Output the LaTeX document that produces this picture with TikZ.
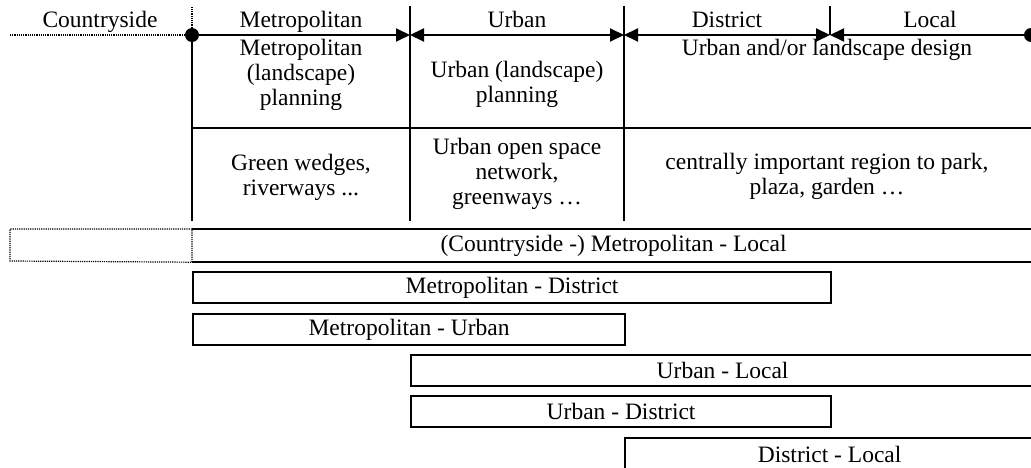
\documentclass[tikz,border=0pt]{standalone}
\usepackage{fontspec}
\setmainfont{Liberation Serif}
\usetikzlibrary{arrows.meta}

\tikzset{
  txt/.style={font=\fontsize{23.5}{25}\selectfont, align=center, inner sep=0pt},
  rule/.style={line width=2pt},
  span/.style={draw, line width=2.2pt, anchor=north west, inner sep=0pt,
    minimum height=31pt, font=\fontsize{23.5}{25}\selectfont},
  dots/.style={densely dotted, line width=1.2pt}
}

\begin{document}
\begin{tikzpicture}[x=1pt,y=-1pt,>={Triangle[length=14pt,width=13pt]}]
    \useasboundingbox (0,0) rectangle (1031,468);

    % scale axis
    \coordinate (cs) at (10,35);
    \coordinate (b0) at (192,35);
    \coordinate (b1) at (410,35);
    \coordinate (b2) at (624,35);
    \coordinate (b3) at (830,35);
    \coordinate (b4) at (1031,35);

    \draw[dots] (cs) -- (b0) -- (192,6);
    \draw[rule,->] (b0) -- (b1);
    \draw[rule,<->] (b1) -- (b2);
    \draw[rule,<->] (b2) -- (b3);
    \draw[rule,<-] (b3) -- (b4);
    \fill (b0) circle (7pt);
    \fill (b4) circle (7pt);

    % table grid
    \foreach \x in {410,624} {
      \draw[rule] (\x,6) -- (\x,221);
    }
    \draw[rule] (b0) -- (192,221);
    \draw[rule] (b3) -- (830,6);
    \draw[rule] (192,128) -- (1031,128);

    % scale labels
    \node[txt, anchor=base] (cty) at (100,28) {Countryside};
    \node[txt, anchor=base] (met) at (301,28) {Metropolitan};
    \node[txt, anchor=base] (urb) at (517,28) {Urban};
    \node[txt, anchor=base] (dis) at (727,28) {District};
    \node[txt, anchor=base] (loc) at (930,28) {Local};

    % planning level
    \node[txt] (metplan) at (301,75) {Metropolitan\\(landscape)\\planning};
    \node[txt] (urbplan) at (517,84) {Urban (landscape)\\planning};
    \node[txt] (design) at (827,50) {Urban and/or landscape design};

    % typical elements
    \node[txt] (wedges) at (301,177) {Green wedges,\\riverways ...};
    \node[txt] (network) at (517,174) {Urban open space\\network,\\greenways …};
    \node[txt] (park) at (827,176) {centrally important region to park,\\plaza, garden …};

    % scale ranges
    \node[span, draw=none, minimum width=841pt] (metloc) at (192,229)
      {(Countryside -) Metropolitan - Local};
    \draw[line width=2.2pt] (metloc.north west) -- (metloc.north east)
      (metloc.south west) -- (metloc.south east);
    \draw[dots] (metloc.north west) -- (10,229) -- (10,261) -- (metloc.south west) -- cycle;

    \node[span, minimum width=638pt] (metdis) at (192,271) {Metropolitan - District};
    \node[span, minimum width=432pt] (meturb) at (192,313) {Metropolitan - Urban};
    \node[span, minimum width=623pt] (urbloc) at (410,354) {Urban - Local};
    \node[span, minimum width=420pt] (urbdis) at (410,395) {Urban - District};
    \node[span, minimum width=409pt, minimum height=33pt] (disloc) at (624,437) {District - Local};
  \end{tikzpicture}
\end{document}
